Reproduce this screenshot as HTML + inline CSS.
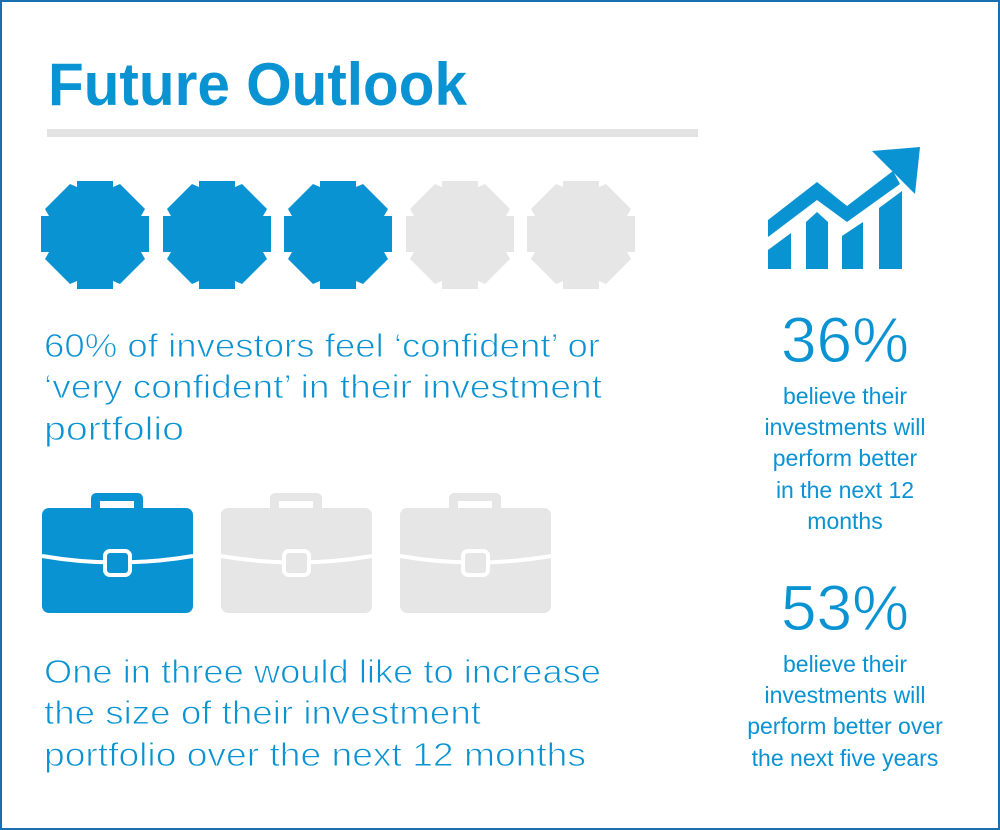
<!DOCTYPE html>
<html><head><meta charset="utf-8"><style>
html,body{margin:0;padding:0;background:#fff}
svg{display:block}
text{font-family:"Liberation Sans",sans-serif;fill:#0a93d3}
.lt{stroke:#fff;stroke-width:0.9;paint-order:normal}
</style></head><body>
<svg width="1000" height="830" viewBox="0 0 1000 830" xmlns="http://www.w3.org/2000/svg">
<rect x="1" y="1" width="998" height="828" fill="#fff" stroke="#1a6fb0" stroke-width="2"/>
<text x="48" y="105" font-size="60" font-weight="bold" textLength="419" lengthAdjust="spacingAndGlyphs">Future Outlook</text>
<rect x="47" y="129" width="651" height="8" fill="#e3e3e3"/>
<defs>
<polygon id="bd" points="36,0 72,0 72,6 79,3 104,28 100,35 108,35 108,71 100,71 104,78 79,103 72,100 72,108 36,108 36,100 29,103 4,78 8,71 0,71 0,35 8,35 4,28 29,3 36,6"/>
<g id="bc">
<path d="M49,14 v-10 a5,5 0 0 1 5,-5 h42 a5,5 0 0 1 5,5 v10 h-9 v-7 h-34 v7 z"/>
<rect x="0" y="14" width="151" height="105" rx="7"/>
</g>
</defs>
<use href="#bd" x="41" y="181" fill="#0a93d3"/>
<use href="#bd" x="163" y="181" fill="#0a93d3"/>
<use href="#bd" x="284" y="181" fill="#0a93d3"/>
<use href="#bd" x="406" y="181" fill="#e6e6e6"/>
<use href="#bd" x="527" y="181" fill="#e6e6e6"/>
<g font-size="33" class="lt">
<text x="44" y="357" textLength="556" lengthAdjust="spacingAndGlyphs">60% of investors feel ‘confident’ or</text>
<text x="44" y="398" textLength="558" lengthAdjust="spacingAndGlyphs">‘very confident’ in their investment</text>
<text x="44" y="440" textLength="140" lengthAdjust="spacingAndGlyphs">portfolio</text>
<text x="44" y="683" textLength="557" lengthAdjust="spacingAndGlyphs">One in three would like to increase</text>
<text x="44" y="724" textLength="437" lengthAdjust="spacingAndGlyphs">the size of their investment</text>
<text x="44" y="766" textLength="542" lengthAdjust="spacingAndGlyphs">portfolio over the next 12 months</text>
</g>
<g transform="translate(42,494)" fill="#0a93d3"><use href="#bc"/>
<path d="M0,62 Q75,75 151,62" stroke="#fff" stroke-width="4" fill="none"/>
<rect x="63" y="57" width="25" height="24" rx="5" fill="#0a93d3" stroke="#fff" stroke-width="4"/></g>
<g transform="translate(221,494)" fill="#e6e6e6"><use href="#bc"/>
<path d="M0,62 Q75,75 151,62" stroke="#fff" stroke-width="4" fill="none"/>
<rect x="63" y="57" width="25" height="24" rx="5" fill="#e6e6e6" stroke="#fff" stroke-width="4"/></g>
<g transform="translate(400,494)" fill="#e6e6e6"><use href="#bc"/>
<path d="M0,62 Q75,75 151,62" stroke="#fff" stroke-width="4" fill="none"/>
<rect x="63" y="57" width="25" height="24" rx="5" fill="#e6e6e6" stroke="#fff" stroke-width="4"/></g>
<g fill="#0a93d3">
<polygon points="768,250 791,233 791,269 768,269"/>
<polygon points="806,222 817,212 828,222 828,269 806,269"/>
<polygon points="842,236 863,222 863,269 842,269"/>
<polygon points="879,208 902,191 902,269 879,269"/>
<polygon points="768,220 817,182 847,206 893,171 900,184 847,222 817,200 768,237"/>
<polygon points="872,151 920,147 915,194"/>
</g>
<g text-anchor="middle">
<text x="845" y="362" font-size="64" class="lt" stroke-width="1.6">36%</text>
<text x="845" y="630" font-size="64" class="lt" stroke-width="1.6">53%</text>
<g font-size="23">
<text x="845" y="404">believe their</text>
<text x="845" y="435">investments will</text>
<text x="845" y="466">perform better</text>
<text x="845" y="498">in the next 12</text>
<text x="845" y="529">months</text>
<text x="845" y="672">believe their</text>
<text x="845" y="703">investments will</text>
<text x="845" y="734">perform better over</text>
<text x="845" y="766">the next five years</text>
</g></g>
</svg>
</body></html>
